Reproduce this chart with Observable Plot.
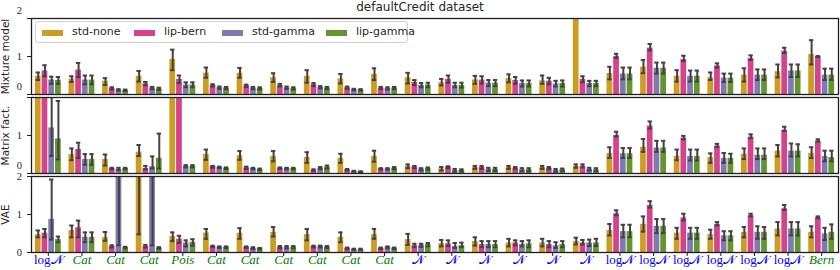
<!DOCTYPE html>
<html>
<head>
<meta charset="utf-8">
<script src="https://cdn.jsdelivr.net/npm/d3@7"></script>
<script src="https://cdn.jsdelivr.net/npm/@observablehq/plot@0.6"></script>
<style>
  body { margin: 0; background: #fff; }
  #wrap { position: relative; width: 840px; height: 270px; }
  #title { position: absolute; left: 0; top: 0; width: 840px; height: 15px; line-height: 15px; text-align: center; font: 12px "DejaVu Sans", sans-serif; color: #262626; z-index: 2; pointer-events: none; }
  #legend { position: absolute; left: 35px; top: 21px; width: 371px; height: 20px; border: 1px solid #cfcfcf; border-radius: 3px; background: rgba(255,255,255,0.85); font: 11px "DejaVu Sans", sans-serif; color: #262626; z-index: 2; }
  #legend .sw { position: absolute; top: 8px; width: 21px; height: 6px; }
  #legend .lb { position: absolute; top: 3px; line-height: 14px; white-space: nowrap; }
  svg { display: block; }
</style>
</head>
<body>
<div id="wrap">
  <div id="chart"></div>
  <div id="title">defaultCredit dataset</div>
  <div id="legend"></div>
</div>
<script>
const models = ["Mixture model", "Matrix fact.", "VAE"];
const series = ["std-none", "lip-bern", "std-gamma", "lip-gamma"];
const seriesColors = ["#cf9c22", "#d4438c", "#7f7ab0", "#64962f"];
const groupTypes = ["logN","Cat","Cat","Cat","Pois","Cat","Cat","Cat","Cat","Cat","Cat",
  "N","N","N","N","N","N","logN","logN","logN","logN","logN","logN","Bern"];
const yTicks = [0, 1, 2];

// ---- Mixture model ----
const mixStdNone   = [0.48,0.40,0.35,0.48,0.92,0.56,0.56,0.44,0.48,0.41,0.53,0.44,0.31,0.38,0.42,0.36,2.60,0.55,0.72,0.48,0.44,0.51,0.60,1.05];
const mixStdNoneLo = [0.38,0.33,0.25,0.34,0.64,0.44,0.44,0.33,0.31,0.29,0.38,0.29,0.24,0.28,0.32,0.28,2.40,0.40,0.56,0.34,0.38,0.34,0.45,0.79];
const mixStdNoneHi = [0.58,0.48,0.43,0.62,1.18,0.71,0.70,0.56,0.64,0.54,0.69,0.57,0.41,0.49,0.53,0.50,2.80,0.73,0.91,0.64,0.58,0.69,0.79,1.43];
const mixLipBern   = [0.62,0.64,0.16,0.28,0.40,0.24,0.23,0.24,0.26,0.18,0.17,0.32,0.40,0.38,0.37,0.35,0.40,1.00,1.22,0.92,0.75,0.95,1.14,1.00];
const mixLipBernLo = [0.48,0.46,0.13,0.24,0.30,0.21,0.20,0.21,0.22,0.15,0.14,0.25,0.31,0.29,0.28,0.27,0.32,0.96,1.16,0.88,0.71,0.91,1.09,0.99];
const mixLipBernHi = [0.77,0.83,0.19,0.33,0.50,0.27,0.26,0.28,0.30,0.21,0.20,0.38,0.50,0.48,0.46,0.44,0.48,1.07,1.33,1.02,0.82,1.03,1.23,1.01];
const mixStdGamma   = [0.38,0.38,0.12,0.17,0.25,0.18,0.17,0.18,0.19,0.13,0.16,0.24,0.24,0.30,0.29,0.28,0.29,0.54,0.69,0.48,0.43,0.51,0.62,0.51];
const mixStdGammaLo = [0.28,0.27,0.10,0.14,0.19,0.15,0.14,0.15,0.16,0.11,0.13,0.19,0.19,0.22,0.21,0.21,0.22,0.40,0.55,0.34,0.33,0.38,0.46,0.38];
const mixStdGammaHi = [0.47,0.50,0.14,0.20,0.32,0.21,0.20,0.21,0.22,0.15,0.19,0.30,0.31,0.38,0.37,0.36,0.36,0.71,0.84,0.63,0.55,0.66,0.79,0.68];
const mixLipGamma   = [0.37,0.38,0.11,0.15,0.25,0.17,0.16,0.16,0.17,0.12,0.17,0.25,0.24,0.30,0.29,0.29,0.29,0.54,0.69,0.48,0.43,0.51,0.62,0.51];
const mixLipGammaLo = [0.28,0.27,0.09,0.12,0.19,0.14,0.13,0.13,0.14,0.10,0.14,0.19,0.18,0.22,0.21,0.21,0.22,0.40,0.55,0.34,0.33,0.38,0.46,0.38];
const mixLipGammaHi = [0.46,0.50,0.13,0.18,0.32,0.20,0.19,0.19,0.20,0.14,0.20,0.31,0.31,0.38,0.37,0.37,0.36,0.71,0.84,0.63,0.55,0.66,0.79,0.68];

// ---- Matrix factorization ----
const matStdNone   = [2.60,0.50,0.37,0.56,2.60,0.50,0.47,0.45,0.42,0.40,0.45,0.19,0.12,0.16,0.16,0.16,0.19,0.53,0.69,0.45,0.42,0.51,0.59,0.53];
const matStdNoneLo = [2.40,0.35,0.21,0.46,2.40,0.36,0.36,0.32,0.28,0.28,0.31,0.14,0.08,0.12,0.12,0.12,0.15,0.41,0.57,0.35,0.28,0.38,0.45,0.41];
const matStdNoneHi = [2.80,0.66,0.50,0.75,2.80,0.63,0.59,0.59,0.56,0.52,0.60,0.24,0.17,0.20,0.20,0.20,0.24,0.69,0.91,0.63,0.53,0.66,0.75,0.69];
const matLipBern   = [2.60,0.63,0.13,0.13,2.60,0.18,0.15,0.14,0.09,0.10,0.12,0.17,0.17,0.16,0.14,0.14,0.19,1.00,1.25,0.93,0.72,0.96,1.14,0.85];
const matLipBernLo = [2.40,0.41,0.11,0.11,2.40,0.15,0.12,0.12,0.07,0.08,0.10,0.14,0.14,0.12,0.11,0.11,0.16,0.97,1.18,0.90,0.70,0.93,1.12,0.84];
const matLipBernHi = [2.80,0.81,0.15,0.20,2.80,0.20,0.18,0.16,0.11,0.12,0.14,0.20,0.19,0.20,0.17,0.17,0.24,1.10,1.37,0.99,0.78,1.03,1.23,0.90];
const matStdGamma   = [1.20,0.37,0.11,0.18,0.19,0.16,0.13,0.13,0.14,0.06,0.12,0.11,0.08,0.11,0.10,0.08,0.11,0.52,0.67,0.45,0.40,0.48,0.59,0.45];
const matStdGammaLo = [0.46,0.23,0.09,0.13,0.16,0.14,0.11,0.11,0.11,0.05,0.10,0.08,0.05,0.07,0.06,0.05,0.08,0.41,0.57,0.34,0.28,0.38,0.45,0.32];
const matStdGammaHi = [2.60,0.51,0.15,0.45,0.22,0.18,0.15,0.15,0.17,0.07,0.14,0.14,0.12,0.15,0.14,0.12,0.15,0.67,0.86,0.63,0.54,0.66,0.79,0.60];
const matLipGamma   = [0.91,0.37,0.13,0.40,0.19,0.14,0.11,0.13,0.17,0.05,0.14,0.13,0.08,0.11,0.10,0.10,0.10,0.52,0.67,0.45,0.40,0.48,0.59,0.42];
const matLipGammaLo = [0.37,0.23,0.11,0.13,0.16,0.12,0.09,0.11,0.13,0.04,0.11,0.10,0.05,0.07,0.06,0.06,0.06,0.41,0.57,0.34,0.28,0.38,0.45,0.32];
const matLipGammaHi = [1.91,0.51,0.15,1.05,0.22,0.16,0.13,0.15,0.21,0.06,0.17,0.16,0.11,0.15,0.14,0.13,0.14,0.67,0.86,0.63,0.52,0.66,0.77,0.60];

// ---- VAE ----
const vaeStdNone   = [0.47,0.58,0.39,2.60,0.42,0.51,0.51,0.53,0.47,0.40,0.47,0.34,0.23,0.29,0.25,0.25,0.29,0.58,0.74,0.51,0.47,0.53,0.62,0.53];
const vaeStdNoneLo = [0.40,0.40,0.31,0.48,0.30,0.36,0.36,0.42,0.32,0.27,0.36,0.20,0.16,0.18,0.16,0.16,0.21,0.45,0.55,0.36,0.36,0.40,0.45,0.40];
const vaeStdNoneHi = [0.58,0.71,0.54,3.00,0.53,0.62,0.64,0.67,0.62,0.53,0.62,0.49,0.33,0.40,0.36,0.36,0.39,0.75,0.95,0.65,0.60,0.67,0.80,0.69];
const vaeLipBern   = [0.51,0.65,0.16,0.16,0.35,0.16,0.14,0.14,0.16,0.11,0.11,0.18,0.23,0.21,0.25,0.21,0.25,1.02,1.24,0.91,0.74,0.97,1.15,0.91];
const vaeLipBernLo = [0.40,0.40,0.13,0.13,0.25,0.14,0.12,0.11,0.13,0.09,0.09,0.14,0.17,0.14,0.19,0.14,0.21,0.98,1.18,0.84,0.71,0.95,1.12,0.90];
const vaeLipBernHi = [0.62,0.84,0.19,0.20,0.44,0.18,0.16,0.17,0.18,0.13,0.13,0.23,0.32,0.30,0.32,0.30,0.33,1.11,1.35,1.02,0.80,1.02,1.25,0.95];
const vaeStdGamma   = [0.87,0.40,2.60,2.60,0.25,0.14,0.11,0.14,0.16,0.08,0.14,0.19,0.16,0.21,0.21,0.18,0.25,0.55,0.69,0.51,0.44,0.53,0.62,0.49];
const vaeStdGammaLo = [0.34,0.27,0.19,0.19,0.16,0.12,0.09,0.11,0.13,0.07,0.11,0.15,0.12,0.14,0.16,0.12,0.17,0.40,0.51,0.36,0.32,0.36,0.45,0.33];
const vaeStdGammaHi = [1.92,0.53,3.00,3.00,0.32,0.16,0.14,0.17,0.18,0.10,0.16,0.23,0.25,0.30,0.30,0.27,0.34,0.73,0.88,0.65,0.56,0.69,0.80,0.65];
const vaeLipGamma   = [0.34,0.40,0.13,0.12,0.27,0.14,0.10,0.14,0.14,0.08,0.11,0.21,0.18,0.21,0.23,0.21,0.25,0.55,0.69,0.51,0.44,0.53,0.62,0.53];
const vaeLipGammaLo = [0.27,0.27,0.11,0.10,0.18,0.12,0.08,0.11,0.12,0.07,0.09,0.16,0.14,0.14,0.14,0.14,0.17,0.40,0.51,0.36,0.32,0.36,0.45,0.36];
const vaeLipGammaHi = [0.42,0.53,0.15,0.14,0.35,0.16,0.12,0.17,0.17,0.10,0.13,0.25,0.26,0.30,0.32,0.30,0.36,0.73,0.88,0.65,0.56,0.67,0.80,0.74];

const table = {
  "Mixture model": [[mixStdNone,mixStdNoneLo,mixStdNoneHi],[mixLipBern,mixLipBernLo,mixLipBernHi],[mixStdGamma,mixStdGammaLo,mixStdGammaHi],[mixLipGamma,mixLipGammaLo,mixLipGammaHi]],
  "Matrix fact.":  [[matStdNone,matStdNoneLo,matStdNoneHi],[matLipBern,matLipBernLo,matLipBernHi],[matStdGamma,matStdGammaLo,matStdGammaHi],[matLipGamma,matLipGammaLo,matLipGammaHi]],
  "VAE":           [[vaeStdNone,vaeStdNoneLo,vaeStdNoneHi],[vaeLipBern,vaeLipBernLo,vaeLipBernHi],[vaeStdGamma,vaeStdGammaLo,vaeStdGammaHi],[vaeLipGamma,vaeLipGammaLo,vaeLipGammaHi]]
};

const rows = [];
for (const m of models) {
  table[m].forEach(([v, lo, hi], si) => {
    groupTypes.forEach((t, g) => rows.push({model: m, series: series[si], si, g, v: v[g], lo: lo[g], hi: hi[g]}));
  });
}

const bw = 0.8 / series.length;
const left = d => d.g - 0.4 + d.si * bw;
const mid = d => left(d) + bw / 2;
const cap = 0.065;
const errColor = "#424242";

const groupIdx = groupTypes.map((t, i) => i);
const contTypes = new Set(["logN", "N"]);
const mathText = t => t === "logN" ? "log\u{1D4A9}" : "\u{1D4A9}";

const tickRows = [];
for (const m of models) for (const v of yTicks) tickRows.push({model: m, v});
const hiddenTick = d => d.model === "Matrix fact." && d.v === 2;
const raisedTick = d => (d.model !== "VAE") && (d.v === 0 || d.v === 2);
const tickFont = {frameAnchor: "left", dx: -9.5, textAnchor: "end", fontFamily: "Liberation Serif, serif", fontSize: 10.5, fill: "#262626"};

const chart = Plot.plot({
  width: 840, height: 270,
  marginTop: 17.5, marginBottom: 18, marginLeft: 31, marginRight: 2,
  x: {domain: [-0.5, 23.5], axis: null},
  y: {domain: [0, 2], axis: null},
  fy: {domain: models, paddingInner: 0.035, paddingOuter: 0, axis: null},
  color: {domain: series, range: seriesColors},
  style: {fontFamily: "DejaVu Sans, sans-serif", background: "white", color: "#262626", overflow: "visible"},
  marks: [
    Plot.rect(rows, {x1: left, x2: d => left(d) + bw, y1: 0, y2: "v", fy: "model", fill: "series", insetLeft: 0.5, insetRight: 0.5, clip: true}),
    Plot.ruleX(rows, {x: mid, y1: "lo", y2: "hi", fy: "model", stroke: errColor, strokeWidth: 2, clip: true}),
    Plot.ruleY(rows, {y: "lo", x1: d => mid(d) - cap, x2: d => mid(d) + cap, fy: "model", stroke: errColor, strokeWidth: 2, clip: true}),
    Plot.ruleY(rows, {y: "hi", x1: d => mid(d) - cap, x2: d => mid(d) + cap, fy: "model", stroke: errColor, strokeWidth: 2, clip: true}),
    Plot.frame({stroke: "#1e1e1e", strokeWidth: 1.3}),
    Plot.axisY({ticks: yTicks, tickSize: 4, tickFormat: () => "", stroke: "#1e1e1e"}),
    Plot.axisX({ticks: groupIdx, tickSize: 4, tickFormat: () => "", stroke: "#1e1e1e"}),
    // y tick labels
    Plot.text(tickRows.filter(d => !hiddenTick(d) && !raisedTick(d)), {fy: "model", y: "v", text: d => String(d.v), ...tickFont}),
    Plot.text(tickRows.filter(d => !hiddenTick(d) && raisedTick(d)), {fy: "model", y: "v", text: d => String(d.v), dy: -7.5, ...tickFont}),
    // facet titles
    Plot.text(models, {fy: d => d, text: d => d, frameAnchor: "left", textAnchor: "middle", dx: -25.5, rotate: -90, fontSize: 10.5, fill: "#262626"}),
    // x tick labels
    Plot.text(groupIdx.filter(i => contTypes.has(groupTypes[i])), {x: i => i, fy: () => "VAE", text: i => mathText(groupTypes[i]), frameAnchor: "bottom", dy: 11, fontFamily: "Liberation Serif, DejaVu Serif, serif", fontSize: 13, fill: "blue"}),
    Plot.text(groupIdx.filter(i => !contTypes.has(groupTypes[i])), {x: i => i, fy: () => "VAE", text: i => groupTypes[i], frameAnchor: "bottom", dy: 11, fontFamily: "Liberation Serif, serif", fontStyle: "italic", fontSize: 13, fill: "green"})
  ]
});
document.getElementById("chart").appendChild(chart);

// legend inside the first panel
const legend = document.getElementById("legend");
const swLeft = [6, 98, 186, 290];
series.forEach((s, i) => {
  const sw = document.createElement("div");
  sw.className = "sw"; sw.style.left = swLeft[i] + "px"; sw.style.background = seriesColors[i];
  const lb = document.createElement("div");
  lb.className = "lb"; lb.style.left = (swLeft[i] + 30) + "px"; lb.textContent = s;
  legend.appendChild(sw); legend.appendChild(lb);
});
</script>
</body>
</html>
